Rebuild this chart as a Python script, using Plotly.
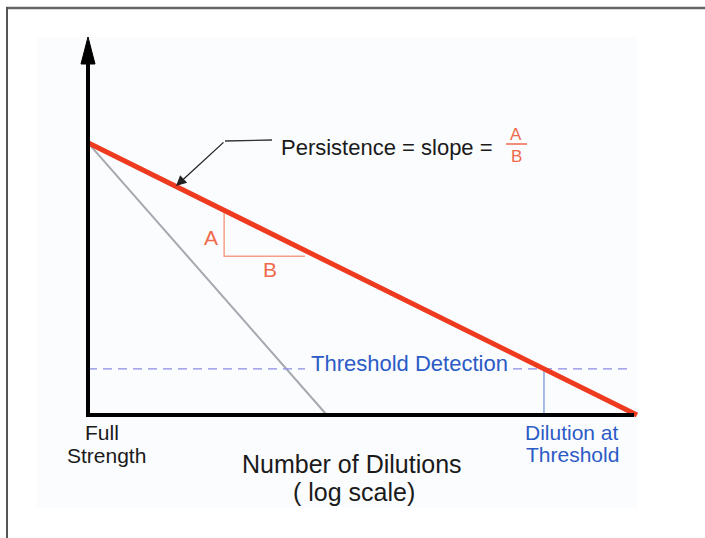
import plotly.graph_objects as go

# ---- data (notional units: x = number of dilutions on log scale, y = odor intensity)
full_strength = 7.2            # intensity at full strength (both odors)
x_axis_max = 10.0              # extent of dilution axis
y_axis_max = 10.0              # extent of intensity axis
persistent_x = [0.0, 10.0]     # red (persistent) odor line
persistent_y = [full_strength, 0.0]
weak_x = [0.0, 4.35]           # gray (less persistent) odor line
weak_y = [full_strength, 0.0]
threshold_level = 1.22         # threshold detection intensity
tri_x = [2.48, 3.95]           # slope triangle horizontal extent
tri_base = 4.2                 # slope triangle base level

slope = (persistent_y[1] - persistent_y[0]) / (persistent_x[1] - persistent_x[0])
def red_at(x):
    return persistent_y[0] + slope * (x - persistent_x[0])
threshold_dilution = persistent_x[0] + (threshold_level - persistent_y[0]) / slope

# ---- pixel mapping (layout only)
W, H = 705, 538
X0, Y0, XS, YS = 88, 415, 54.9, 37.8
def dx(px): return (px - X0) / XS
def dy(py): return (Y0 - py) / YS

RED = "#ee3b1f"
ORANGE = "#f0694a"
LORANGE = "#f7a088"
BLUE = "#2b5bc6"
FONT = "Liberation Sans, Arial, sans-serif"

fig = go.Figure()

fig.add_trace(go.Scatter(x=weak_x, y=weak_y, mode="lines",
                         line=dict(color="#a6a8b0", width=2), hoverinfo="skip"))

# threshold dashed line (interrupted by its label)
dash = dict(color="#8c8ce6", width=1.2, dash="9px,6px")
fig.add_trace(go.Scatter(x=[0, dx(305)], y=[threshold_level, threshold_level], mode="lines",
                         line=dash, hoverinfo="skip"))
fig.add_trace(go.Scatter(x=[dx(513), dx(630)], y=[threshold_level, threshold_level], mode="lines",
                         line=dash, hoverinfo="skip"))
fig.add_trace(go.Scatter(x=[threshold_dilution, threshold_dilution], y=[0, threshold_level],
                         mode="lines", line=dict(color="#7090d8", width=1.2), hoverinfo="skip"))

# slope triangle
fig.add_trace(go.Scatter(x=[tri_x[0], tri_x[0], tri_x[1]],
                         y=[red_at(tri_x[0]), tri_base, tri_base], mode="lines",
                         line=dict(color=LORANGE, width=1.5), hoverinfo="skip"))

fig.add_trace(go.Scatter(x=persistent_x, y=persistent_y, mode="lines",
                         line=dict(color=RED, width=5), hoverinfo="skip"))

# axes
fig.add_trace(go.Scatter(x=[0, 0, dx(634)], y=[dy(60), 0, 0], mode="lines",
                         line=dict(color="black", width=4), hoverinfo="skip"))
fig.add_trace(go.Scatter(x=[dx(81), 0, dx(95), dx(81)], y=[dy(64), y_axis_max, dy(64), dy(64)],
                         mode="lines", fill="toself", fillcolor="black",
                         line=dict(color="black", width=1), hoverinfo="skip"))

shapes = [
    dict(type="rect", xref="x", yref="y", x0=dx(37), x1=dx(638), y0=dy(508), y1=dy(37),
         fillcolor="#fbfcfe", line=dict(width=0), layer="below"),
    dict(type="line", xref="x", yref="y", x0=dx(6), x1=dx(705), y0=dy(8), y1=dy(8),
         line=dict(color="#666666", width=2.5)),
    dict(type="line", xref="x", yref="y", x0=dx(7), x1=dx(7), y0=dy(7), y1=dy(538),
         line=dict(color="#555555", width=2)),
    dict(type="line", xref="x", yref="y", x0=dx(225), x1=dx(272), y0=dy(141), y1=dy(140),
         line=dict(color="#333333", width=1.3)),
    dict(type="line", xref="x", yref="y", x0=dx(506), x1=dx(527), y0=dy(144), y1=dy(144),
         line=dict(color=ORANGE, width=1.5)),
]

def txt(s, px, py, size, color="#1a1a1a", xanchor="center"):
    return dict(text=s, x=dx(px), y=dy(py), xref="x", yref="y", showarrow=False,
                xanchor=xanchor, yanchor="middle", borderpad=0,
                font=dict(family=FONT, size=size, color=color))

annotations = [
    txt("Persistence = slope =", 280, 147, 22, xanchor="left"),
    txt("A", 516, 134, 17, ORANGE),
    txt("B", 516, 156, 17, ORANGE),
    txt("A", 211, 237, 21, ORANGE),
    txt("B", 270, 269, 21, ORANGE),
    txt("Threshold Detection", 409, 363, 22, BLUE),
    txt("Full", 102, 432, 21),
    txt("Strength", 106, 455, 21),
    txt("Dilution at", 572, 432, 21, BLUE),
    txt("Threshold", 572, 454, 21, BLUE),
    txt("Number of Dilutions", 352, 464, 25),
    txt("( log scale)", 354, 492, 25),
    dict(x=dx(176), y=dy(186), ax=dx(225), ay=dy(141), xref="x", yref="y",
         axref="x", ayref="y", text="", showarrow=True, arrowhead=2, arrowsize=1.6,
         arrowwidth=1.3, arrowcolor="#222222"),
]

fig.update_layout(
    width=W, height=H, margin=dict(l=0, r=0, t=0, b=0),
    paper_bgcolor="white", plot_bgcolor="white", showlegend=False,
    xaxis=dict(range=[-X0 / XS, (W - X0) / XS], visible=False, fixedrange=True),
    yaxis=dict(range=[-(H - Y0) / YS, Y0 / YS], visible=False, fixedrange=True),
    shapes=shapes, annotations=annotations,
)

fig.write_html("out.html", config={"displayModeBar": False},
               post_script="document.body.style.margin='0px';document.body.style.padding='0px';")
